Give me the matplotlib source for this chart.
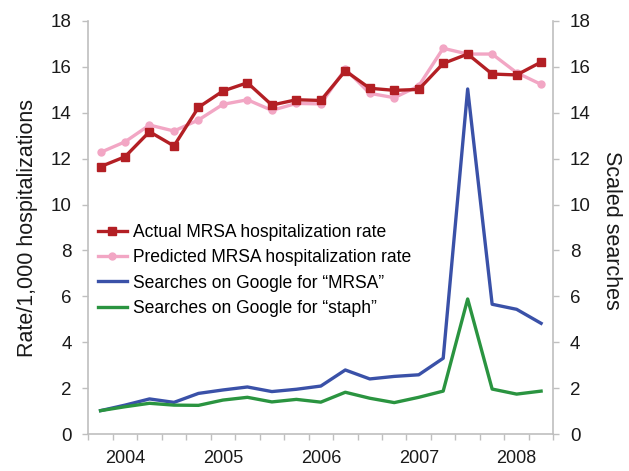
import numpy as np
import matplotlib
matplotlib.use("Agg")
import matplotlib.pyplot as plt

plt.rcParams['font.family'] = ['Liberation Sans', 'DejaVu Sans']

# Quarterly data, Q4 2003 .. Q2 2008
actual = [11.65, 12.08, 13.17, 12.55, 14.23, 14.94, 15.30, 14.33, 14.56, 14.53,
          15.82, 15.06, 14.97, 15.01, 16.14, 16.55, 15.68, 15.64, 16.20]
predicted = [12.27, 12.73, 13.46, 13.20, 13.68, 14.36, 14.56, 14.10, 14.40, 14.38,
             15.90, 14.84, 14.65, 15.16, 16.80, 16.55, 16.55, 15.74, 15.23]
mrsa = [1.03, 1.27, 1.54, 1.39, 1.78, 1.93, 2.06, 1.86, 1.96, 2.10,
        2.80, 2.41, 2.52, 2.59, 3.31, 15.03, 5.66, 5.44, 4.83]
staph = [1.03, 1.20, 1.35, 1.27, 1.26, 1.49, 1.61, 1.41, 1.52, 1.40,
         1.83, 1.57, 1.38, 1.61, 1.88, 5.89, 1.97, 1.75, 1.88]
year_labels = ['2004', '2005', '2006', '2007', '2008']
year_positions = [1, 5, 9, 13, 17]

labels = ['Actual MRSA hospitalization rate',
          'Predicted MRSA hospitalization rate',
          'Searches on Google for \u201cMRSA\u201d',
          'Searches on Google for \u201cstaph\u201d']

c_red = '#B31F24'
c_pink = '#F2A6C4'
c_blue = '#3A51A8'
c_green = '#2A9440'
c_axis = '#BFBFBF'
c_text = '#1a1a1a'

fig = plt.figure(figsize=(6.29, 4.71), dpi=100)
ax = fig.add_axes([0.1404, 0.0779, 0.8797 - 0.1404, 0.956 - 0.0779])
ax2 = ax.twinx()

x = np.arange(len(actual))
l1, = ax.plot(x, actual, color=c_red, lw=2.4, marker='s', ms=5.5, zorder=3)
l2, = ax.plot(x, predicted, color=c_pink, lw=2.4, marker='o', ms=5, zorder=2)
l3, = ax2.plot(x, mrsa, color=c_blue, lw=2.4)
l4, = ax2.plot(x, staph, color=c_green, lw=2.4)

for a in (ax, ax2):
    a.set_ylim(0, 18)
    a.set_yticks(np.arange(0, 19, 2))
    a.set_xlim(-0.5, len(actual) - 0.5)
    for s in a.spines.values():
        s.set_visible(False)
    a.tick_params(axis='y', direction='out', length=4.5, width=1, color=c_axis,
                  labelsize=13.5, labelcolor=c_text, pad=7.5)

ax.spines['left'].set_visible(True)
ax.spines['bottom'].set_visible(True)
ax2.spines['right'].set_visible(True)
for s in (ax.spines['left'], ax.spines['bottom'], ax2.spines['right']):
    s.set_color(c_axis)
    s.set_linewidth(1.2)

# category boundary ticks (no labels) and year labels (no tick marks)
ax.set_xticks(np.arange(-0.5, len(actual), 1.0))
ax.set_xticklabels([])
ax.tick_params(axis='x', direction='out', length=4.5, width=1, color=c_axis)
ax.set_xticks(year_positions, minor=True)
ax.set_xticklabels(year_labels, minor=True)
ax.tick_params(axis='x', which='minor', length=0, labelsize=13,
               labelcolor=c_text, pad=11.5)

ax.set_ylabel('Rate/1,000 hospitalizations', fontsize=15.5, color=c_text,
              rotation=90, rotation_mode='default', ha='center', va='center')
ax.yaxis.set_label_coords(-0.1318, 0.5)
ax2.set_ylabel('Scaled searches', fontsize=15.5, color=c_text, rotation=270,
               rotation_mode='default', ha='center', va='center')
ax2.yaxis.set_label_coords(1.1256, 0.494)

fig.legend([l1, l2, l3, l4], labels, loc='upper left',
           bbox_to_anchor=(98.3 / 629, 1 - 224 / 471), frameon=False,
           fontsize=12.65, handlelength=1.61, handletextpad=0.34,
           labelspacing=0.47, borderpad=0, borderaxespad=0)

fig.savefig('out.png', dpi=100)
